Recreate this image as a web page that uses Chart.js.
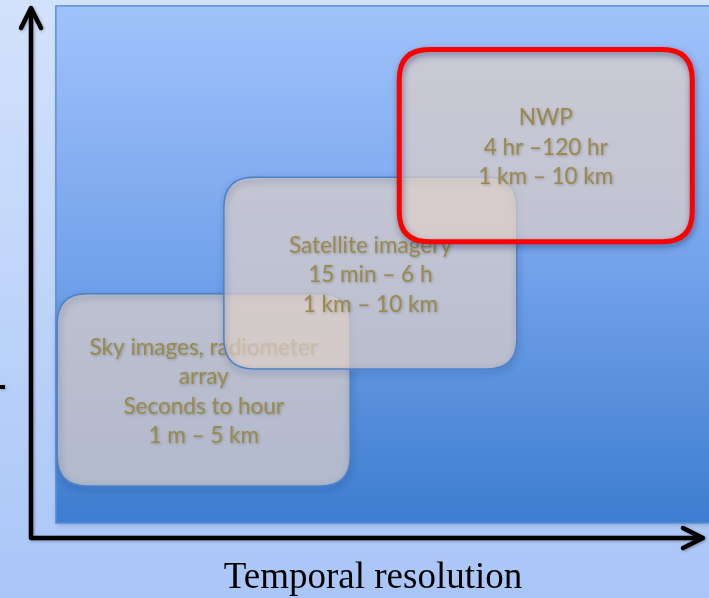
<!DOCTYPE html>
<html>
<head>
<meta charset="utf-8">
<script src="https://cdn.jsdelivr.net/npm/chart.js@4"></script>
<style>
  html, body { margin: 0; padding: 0; background: #c4d8fa; }
  #wrap { width: 709px; height: 598px; position: relative; }
</style>
</head>
<body>
<div id="wrap"><canvas id="chart"></canvas></div>
<script>
// forecasting methods, placed on abstract 0-100 axes (temporal -> x, spatial -> y)
const boxNames = ["Sky images", "Satellite imagery", "NWP"];
const boxText = [
    ["Sky images, radiometer", "array", "Seconds to hour", "1 m – 5 km"],
    ["Satellite imagery", "15 min – 6 h", "1 km – 10 km"],
    ["NWP", "4 hr –120 hr", "1 km – 10 km"]
];
const boxLeft = [3.9, 28.7, 54.8];
const boxRight = [47.5, 72.3, 98.4];
const boxTop = [45.3, 67.0, 90.8];
const boxBottom = [9.5, 31.3, 55.0];
// blue backing panel
const panelX = [3.7, 101.8];
const panelY = [2.6, 98.9];
const xTitle = "Temporal resolution";
const highlighted = "NWP";

function roundedRect(ctx, x, y, w, h, r) {
    ctx.beginPath();
    ctx.moveTo(x + r, y);
    ctx.lineTo(x + w - r, y);
    ctx.quadraticCurveTo(x + w, y, x + w, y + r);
    ctx.lineTo(x + w, y + h - r);
    ctx.quadraticCurveTo(x + w, y + h, x + w - r, y + h);
    ctx.lineTo(x + r, y + h);
    ctx.quadraticCurveTo(x, y + h, x, y + h - r);
    ctx.lineTo(x, y + r);
    ctx.quadraticCurveTo(x, y, x + r, y);
    ctx.closePath();
}

const diagram = {
    id: "diagram",
    beforeDraw(chart) {
        const { ctx, width, height } = chart;
        const xs = chart.scales.x, ys = chart.scales.y;
        ctx.save();
        const bg = ctx.createLinearGradient(0, 0, 0, height);
        bg.addColorStop(0, "#d3e2fb");
        bg.addColorStop(1, "#a9c6f7");
        ctx.fillStyle = bg;
        ctx.fillRect(0, 0, width, height);

        // panel
        const px0 = xs.getPixelForValue(panelX[0]), px1 = xs.getPixelForValue(panelX[1]);
        const py0 = ys.getPixelForValue(panelY[1]), py1 = ys.getPixelForValue(panelY[0]);
        const g = ctx.createLinearGradient(0, py0, 0, py1);
        g.addColorStop(0, "#a0c2fa");
        g.addColorStop(0.5, "#74a3eb");
        g.addColorStop(1, "#3d7dcf");
        ctx.shadowColor = "rgba(40,60,110,0.35)";
        ctx.shadowBlur = 5;
        ctx.shadowOffsetX = 1;
        ctx.shadowOffsetY = 2;
        ctx.fillStyle = g;
        ctx.fillRect(px0, py0, px1 - px0, py1 - py0);
        ctx.shadowColor = "transparent";
        ctx.strokeStyle = "#5d90d6";
        ctx.lineWidth = 1.5;
        ctx.strokeRect(px0, py0, px1 - px0, py1 - py0);
        ctx.restore();
    },
    afterDatasetsDraw(chart) {
        const { ctx, chartArea: area } = chart;
        ctx.save();
        boxNames.forEach((name, i) => {
            const pts = chart.getDatasetMeta(i).data;
            const x0 = pts[0].x, y0 = pts[0].y, x1 = pts[1].x, y1 = pts[1].y;
            const hot = name === highlighted;
            roundedRect(ctx, x0, y0, x1 - x0, y1 - y0, 30);
            ctx.fillStyle = "rgba(220,206,200,0.72)";
            ctx.fill();
            ctx.shadowColor = "rgba(20,40,90,0.5)";
            ctx.shadowBlur = 6;
            ctx.shadowOffsetX = 1;
            ctx.shadowOffsetY = 3;
            ctx.strokeStyle = hot ? "#ff0000" : "#4c82c8";
            ctx.lineWidth = hot ? 5 : 1.5;
            ctx.stroke();

            // label
            const lines = boxText[i];
            const cx = (x0 + x1) / 2, cy = (y0 + y1) / 2 + 2;
            const lh = 29.3;
            ctx.font = '22.5px Lato';
            ctx.textAlign = "center";
            ctx.textBaseline = "middle";
            ctx.shadowColor = "rgba(0,0,0,0.25)";
            ctx.shadowBlur = 3;
            ctx.shadowOffsetX = 1;
            ctx.shadowOffsetY = 1;
            ctx.fillStyle = "#9a8a4b";
            lines.forEach((t, k) => {
                ctx.fillText(t, cx, cy + (k - (lines.length - 1) / 2) * lh);
            });
            ctx.shadowColor = "transparent";
        });

        // axis arrows
        ctx.strokeStyle = "#000";
        ctx.lineWidth = 4.5;
        ctx.lineCap = "round";
        ctx.lineJoin = "round";
        ctx.shadowColor = "rgba(0,0,0,0.3)";
        ctx.shadowBlur = 3;
        ctx.shadowOffsetX = 1;
        ctx.shadowOffsetY = 1;
        const ax = area.left, ay = area.bottom + 1;
        ctx.beginPath();
        ctx.moveTo(ax, ay);
        ctx.lineTo(ax, area.top + 10);
        ctx.moveTo(ax - 10, area.top + 28);
        ctx.lineTo(ax, area.top + 8);
        ctx.lineTo(ax + 10, area.top + 28);
        ctx.moveTo(ax, ay);
        ctx.lineTo(area.right - 2, ay);
        ctx.moveTo(area.right - 20, ay - 10);
        ctx.lineTo(area.right, ay);
        ctx.lineTo(area.right - 20, ay + 10);
        ctx.stroke();

        // fragment of the clipped vertical label
        ctx.lineWidth = 4;
        ctx.lineCap = "butt";
        ctx.beginPath();
        ctx.moveTo(0, 387);
        ctx.lineTo(5, 387);
        ctx.stroke();
        ctx.shadowColor = "transparent";

        ctx.fillStyle = "#000";
        ctx.font = '37px "Liberation Serif"';
        ctx.textAlign = "center";
        ctx.textBaseline = "middle";
        ctx.fillText(xTitle, (area.left + area.right) / 2 + 6, area.bottom + 41);
        ctx.restore();
    }
};

new Chart(document.getElementById("chart"), {
    type: "scatter",
    data: {
        datasets: boxNames.map((name, i) => ({
            label: name,
            data: [{ x: boxLeft[i], y: boxTop[i] }, { x: boxRight[i], y: boxBottom[i] }],
            pointRadius: 0,
            showLine: false
        }))
    },
    options: {
        responsive: true,
        maintainAspectRatio: false,
        animation: false,
        layout: { padding: { left: 31, right: 6, top: 0, bottom: 61 } },
        scales: {
            x: { type: "linear", min: 0, max: 100, display: false },
            y: { type: "linear", min: 0, max: 100, display: false }
        },
        plugins: { legend: { display: false }, tooltip: { enabled: false } }
    },
    plugins: [diagram]
});
</script>
</body>
</html>
